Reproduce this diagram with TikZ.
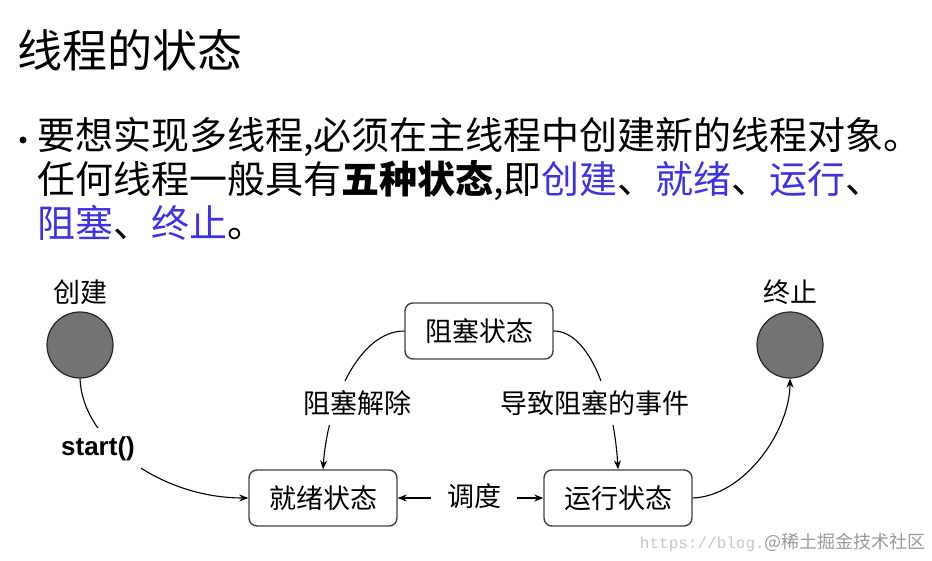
\documentclass[tikz,border=0pt]{standalone}
\usepackage{fontspec}
\setmainfont{Noto Sans CJK SC}
\newfontfamily\arialfont{Liberation Sans}
\newfontfamily\courfont{Liberation Mono}
\usetikzlibrary{arrows.meta}
\definecolor{linkblue}{RGB}{60,50,230}
\definecolor{dotgray}{RGB}{115,115,115}
\newcommand{\hl}[1]{\textcolor{linkblue}{#1}}

\begin{document}
\begin{tikzpicture}[x=1pt,y=1pt,
  state/.style={draw=black!75,line width=1.4pt,rounded corners=8pt,
    minimum width=148pt,minimum height=56pt,font=\fontsize{27}{27}\selectfont},
  endpoint/.style={circle,draw=black!85,line width=1.2pt,fill=dotgray,minimum size=66pt},
  tag/.style={font=\fontsize{27}{27}\selectfont,fill=white,inner xsep=6pt,inner ysep=9pt},
  flow/.style={line width=1.1pt,-{Stealth[length=9pt,width=7pt]}}]
\useasboundingbox (0,0) rectangle (932,-561);
% heading and text
\node[anchor=west,inner sep=0pt] (title) at (17,-50) {\fontsize{45}{45}\selectfont 线程的状态};
\node[circle,fill=black,inner sep=0pt,minimum size=7pt] (bullet) at (23,-140) {};
\node[anchor=west,inner sep=0pt] (ln1) at (37,-137) {\fontsize{38}{38}\selectfont 要想实现多线程,必须在主线程中创建新的线程对象。};
\node[anchor=west,inner sep=0pt] (ln2) at (37,-181) {\fontsize{38}{38}\selectfont 任何线程一般具有\textbf{五种状态},即\hl{创建}、\hl{就绪}、\hl{运行}、};
\node[anchor=west,inner sep=0pt] (ln3) at (37,-223) {\fontsize{38}{38}\selectfont \hl{阻塞}、\hl{终止}。};

% states
\node[font=\fontsize{27}{27}\selectfont] (cjlab) at (80,-292) {创建};
\node[endpoint] (cj) at (80,-345) {};
\node[font=\fontsize{27}{27}\selectfont] (zzlab) at (790,-292) {终止};
\node[endpoint] (zz) at (790,-345) {};
\node[state] (zs) at (479,-331) {阻塞状态};
\node[state] (jx) at (323,-498) {就绪状态};
\node[state] (yx) at (618,-498) {运行状态};

% transitions
\draw[flow] (cj.south) .. controls (82,-440) and (160,-498) .. (jx.west);
\draw[flow] (zs.west) .. controls (360,-331) and (328,-400) .. (jx.north);
\draw[flow] (zs.east) .. controls (590,-331) and (614,-400) .. (yx.north);
\draw[line width=1.1pt,{Stealth[length=9pt,width=7pt]}-{Stealth[length=9pt,width=7pt]}] (jx.east) -- (yx.west);
\draw[flow] (yx.east) .. controls (745,-496) and (790,-430) .. (zz.south);

\node[tag,font=\arialfont\bfseries\fontsize{26}{26}\selectfont] (st) at (98,-449) {start()};
\node[tag] (jc) at (357,-403) {阻塞解除};
\node[tag] (dz) at (595,-403) {导致阻塞的事件};
\node[tag,inner xsep=16pt] (dd) at (474,-496) {调度};

\node[anchor=east,inner sep=0pt] (wm) at (926,-543) {{\courfont\fontsize{16}{16}\selectfont\color{black!22}https://blog.}{\fontsize{18}{18}\selectfont\color{black!40}@稀土掘金技术社区}};
\end{tikzpicture}
\end{document}
